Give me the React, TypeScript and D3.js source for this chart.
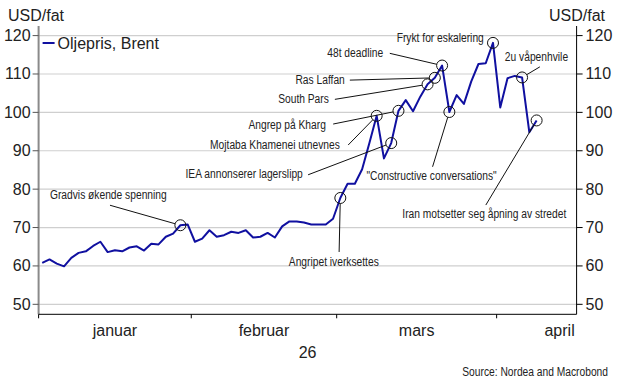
import React from "react";
import * as d3 from "d3";

const W = 625;
const H = 385;
const margin = { top: 26, right: 48.4, bottom: 70.7, left: 38.6 };

// Brent, daglige (virkedager) sluttkurser fra 2. januar
const seriesName = "Oljepris, Brent";
const brent = [
  60.8, 61.7, 60.6, 59.9, 62.1, 63.4, 63.8, 65.2, 66.3, 63.6, 64.1, 63.8, 64.8, 65.1, 64.0, 65.8, 65.6, 67.6, 68.4, 70.6, 70.8,
  66.3, 67.1, 69.3, 67.6, 68.0, 68.9, 68.6, 69.3, 67.4, 67.6, 68.6, 67.4, 70.3, 71.6, 71.6, 71.3, 70.8, 70.8, 70.8, 72.3,
  77.7, 81.4, 81.4, 85.2, 92.0, 99.1, 88.0, 92.0, 100.4, 103.2, 100.3, 104.1, 107.3, 109.0, 112.2, 100.1, 104.5, 102.2,
  108.0, 112.6, 112.8, 118.1,
  101.3, 108.9, 109.5, 109.1, 94.8, 97.9,
];
const firstDay = "2026-01-02";
const lastAxisDay = "2026-04-15";
const monthNames = ["januar", "februar", "mars", "april"];
const yearLabel = "26";
const yTicks = [50, 60, 70, 80, 90, 100, 110, 120];
const yDomain = [47.4, 122.5];
const unitLabel = "USD/fat";
const sourceText = "Source: Nordea and Macrobond";

// hendelser: indeks i serien, tekst og plassering av etikett/strek relativt til punktet
const events = [
  { i: 19, text: "Gradvis økende spenning", dx: -130.4, dy: -30.3, anchor: "start", lx: -70.4, ly: -20 },
  { i: 41, text: "Angripet iverksettes", dx: -6.5, dy: 63.5, anchor: "middle", lx: -1.2, ly: 54 },
  { i: 46, text: "Mojtaba Khamenei utnevnes", dx: -36.8, dy: 29.2, anchor: "end", lx: -28.5, ly: 29.2 },
  { i: 48, text: "IEA annonserer lagerslipp", dx: -88.4, dy: 31, anchor: "end", lx: -83.1, ly: 31.7 },
  { i: 49, text: "Angrep på Kharg", dx: -72.6, dy: 13.7, anchor: "end", lx: -65.3, ly: 13.2 },
  { i: 53, text: "South Pars", dx: -98.7, dy: 14.2, anchor: "end", lx: -92.7, ly: 15 },
  { i: 54, text: "Ras Laffan", dx: -90, dy: 2.3, anchor: "end", lx: -85, ly: 2.3 },
  { i: 55, text: "48t deadline", dx: -59, dy: -12.8, anchor: "end", lx: -52.3, ly: -12.2 },
  { i: 56, text: "\"Constructive conversations\"", dx: -17.8, dy: 63.8, anchor: "middle", lx: -16.8, ly: 54.8 },
  { i: 62, text: "Frykt for eskalering", dx: -9.2, dy: -5.5, anchor: "end", lx: null, ly: null },
  { i: 66, text: "2u våpenhvile", dx: -17.2, dy: -20.6, anchor: "start", lx: 17.8, ly: -10.6 },
  { i: 68, text: "Iran motsetter seg åpning av stredet", dx: -52.3, dy: 93.6, anchor: "middle", lx: -50.8, ly: 84.6 },
];

const mainFont = "'Liberation Sans', Arial, sans-serif";
const narrowScale = 0.82; // ingen smal skrift installert, så den klemmes sammen
const lineColor = "#1010a0";

function businessDays(from: string, to: string) {
  const parse = d3.utcParse("%Y-%m-%d");
  return d3.utcDay.range(parse(from)!, d3.utcDay.offset(parse(to)!, 1)).filter((d) => {
    const wd = d.getUTCDay();
    return wd !== 0 && wd !== 6;
  });
}

function NarrowText({ x, y, anchor = "start", children }: any) {
  return (
    <text
      transform={`translate(${x},${y}) scale(${narrowScale},1)`}
      textAnchor={anchor}
      dominantBaseline="central"
      fontFamily={mainFont}
      fontSize={12.5}
      fill="#222"
    >
      {children}
    </text>
  );
}

export default function App() {
  const days = businessDays(firstDay, lastAxisDay);
  const fmt = d3.utcFormat("%Y-%m-%d");
  const keys = days.map(fmt);

  const x = d3.scaleBand<string>().domain(keys).range([margin.left, W - margin.right]).padding(0);
  const y = d3.scaleLinear().domain(yDomain).range([H - margin.bottom, margin.top]);
  const bw = x.bandwidth();
  const px = (i: number) => (x(keys[i]) as number) + bw / 2;

  const line = d3
    .line<number>()
    .x((_, i) => px(i))
    .y((d) => y(d));

  // første virkedag i hver måned
  const monthStarts = monthNames.map((_, m) => days.findIndex((d) => d.getUTCMonth() === m));
  const x0 = margin.left;
  const x1 = W - margin.right;
  const yTop = margin.top;
  const yBot = H - margin.bottom;

  const monthLabelX = monthStarts.map((s, m) => {
    const next = m + 1 < monthStarts.length ? monthStarts[m + 1] : s + 22;
    const mid = x0 + ((s + next) / 2) * bw;
    return Math.min(mid, x1 - 17);
  });

  const r = 5.5;

  return (
    <svg width={W} height={H} style={{ position: "absolute", left: 0, top: 0, background: "#fff" }}>
      {/* rutenett */}
      {yTicks.map((t) => (
        <line key={"g" + t} x1={x0} x2={x1} y1={y(t)} y2={y(t)} stroke="#cfcfcf" strokeWidth={1.2} />
      ))}

      {/* akser */}
      <line x1={x0} x2={x0} y1={yTop} y2={yBot} stroke="#8a8a8a" strokeWidth={2} />
      <line x1={x1} x2={x1} y1={yTop} y2={yBot} stroke="#000" strokeWidth={1} />
      <line x1={x0} x2={x1} y1={yBot} y2={yBot} stroke="#000" strokeWidth={1} />

      {yTicks.map((t) => (
        <g key={"t" + t} fontFamily={mainFont} fontSize={16} fill="#222">
          <line x1={x0 - 6} x2={x0} y1={y(t)} y2={y(t)} stroke="#555" />
          <line x1={x1} x2={x1 + 6} y1={y(t)} y2={y(t)} stroke="#000" />
          <text x={x0 - 8} y={y(t)} textAnchor="end" dominantBaseline="central">
            {t}
          </text>
          <text x={x1 + 9} y={y(t)} textAnchor="start" dominantBaseline="central">
            {t}
          </text>
        </g>
      ))}

      {monthStarts.map((s, m) => (
        <line key={"mt" + m} x1={x0 + s * bw} x2={x0 + s * bw} y1={yBot} y2={yBot + 4} stroke="#000" />
      ))}
      {monthNames.map((name, m) => (
        <text key={"ml" + m} x={monthLabelX[m]} y={yBot + 22} textAnchor="middle" fontFamily={mainFont} fontSize={16} fill="#222">
          {name}
        </text>
      ))}
      <text x={(x0 + x1) / 2} y={yBot + 44} textAnchor="middle" fontFamily={mainFont} fontSize={16} fill="#222">
        {yearLabel}
      </text>

      <text x={8} y={15} dominantBaseline="central" fontFamily={mainFont} fontSize={16} fill="#222">
        {unitLabel}
      </text>
      <text x={W - 20} y={15} dominantBaseline="central" textAnchor="end" fontFamily={mainFont} fontSize={16} fill="#222">
        {unitLabel}
      </text>

      {/* legende */}
      <line x1={x0 + 4} x2={x0 + 16} y1={43} y2={43} stroke={lineColor} strokeWidth={2} />
      <text x={x0 + 19} y={43} dominantBaseline="central" fontFamily={mainFont} fontSize={16} fill="#222">
        {seriesName}
      </text>

      <path d={line(brent) || ""} fill="none" stroke={lineColor} strokeWidth={2} strokeLinejoin="round" />

      {/* hendelser */}
      {events.map((e) => {
        const cx = px(e.i);
        const cy = y(brent[e.i]);
        let leader = null;
        if (e.lx !== null && e.ly !== null) {
          const len = Math.hypot(e.lx, e.ly);
          const ex = cx + (e.lx / len) * r;
          const ey = cy + (e.ly / len) * r;
          leader = <line x1={cx + e.lx} y1={cy + e.ly} x2={ex} y2={ey} stroke="#111" strokeWidth={1} />;
        }
        return (
          <g key={"e" + e.i}>
            {leader}
            <circle cx={cx} cy={cy} r={r} fill="none" stroke="#111" strokeWidth={1} />
            <NarrowText x={cx + e.dx} y={cy + e.dy} anchor={e.anchor}>
              {e.text}
            </NarrowText>
          </g>
        );
      })}

      <NarrowText x={W - 17} y={372} anchor="end">
        {sourceText}
      </NarrowText>
    </svg>
  );
}
